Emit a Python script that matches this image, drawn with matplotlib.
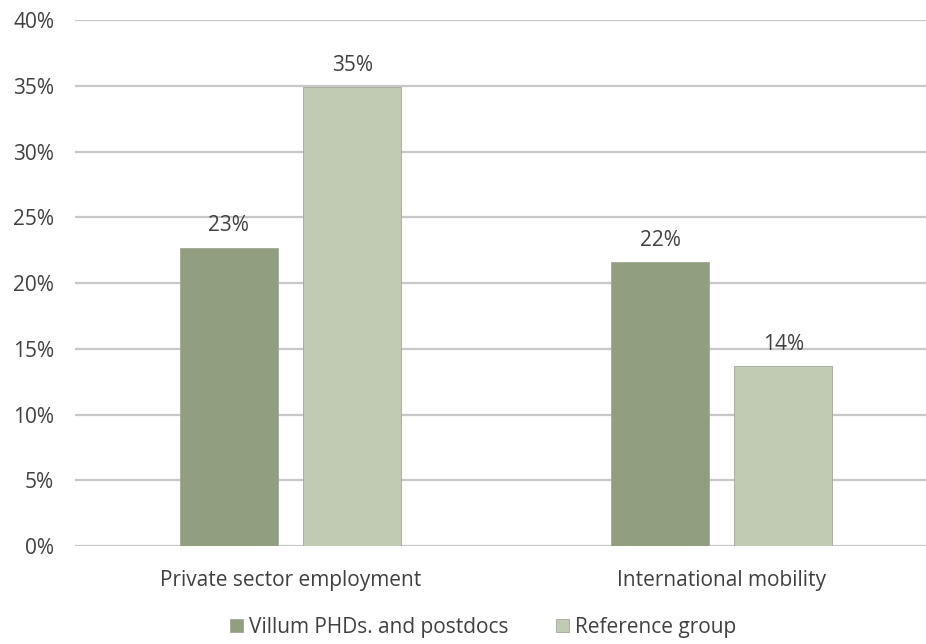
import matplotlib
matplotlib.use("Agg")
import matplotlib.pyplot as plt
import numpy as np

categories = ["Private sector employment", "International mobility"]
villum = [22.7, 21.6]
reference = [34.9, 13.7]
villum_labels = ["23%", "22%"]
reference_labels = ["35%", "14%"]
series_names = ["Villum PHDs. and postdocs", "Reference group"]

plt.rcParams['font.family'] = ['Open Sans', 'DejaVu Sans']
text_col = "#404040"

fig = plt.figure(figsize=(9.26, 6.44), dpi=100)
ax = fig.add_axes([0.081, 0.152, 0.919, 0.817])

x = np.arange(len(categories))
w = 0.227
off = 0.143
b1 = ax.bar(x - off, villum, w, color="#919e7f", edgecolor="#a0a898", linewidth=0.6,
            label=series_names[0], zorder=3)
b2 = ax.bar(x + off, reference, w, color="#c1cab3", edgecolor="#a0a898", linewidth=0.6,
            label=series_names[1], zorder=3)

for bars, labs in [(b1, villum_labels), (b2, reference_labels)]:
    for b, lab in zip(bars, labs):
        ax.text(b.get_x() + b.get_width() / 2, b.get_height() + 0.85, lab,
                ha="center", va="bottom", fontsize=15, color=text_col)

ax.set_xlim(-0.5, 1.474)
ax.set_ylim(0, 40)
ax.set_yticks(range(0, 41, 5))
ax.set_yticklabels(["{}%".format(v) for v in range(0, 41, 5)])
ax.set_xticks(x)
ax.set_xticklabels(categories)
ax.tick_params(axis="both", length=0, labelsize=15, labelcolor=text_col)
ax.tick_params(axis="y", pad=15)
ax.tick_params(axis="x", pad=17)
ax.yaxis.grid(True, color="#c8c8c8", linewidth=1.6, zorder=0)
ax.set_axisbelow(True)
for s in ax.spines.values():
    s.set_visible(False)

fig.legend(loc="lower center", bbox_to_anchor=(0.522, -0.02), ncol=2, frameon=False,
           fontsize=15, handlelength=0.6, handleheight=0.6, handletextpad=0.3,
           columnspacing=2.3, labelcolor=text_col)

fig.savefig("out.png", dpi=100)
